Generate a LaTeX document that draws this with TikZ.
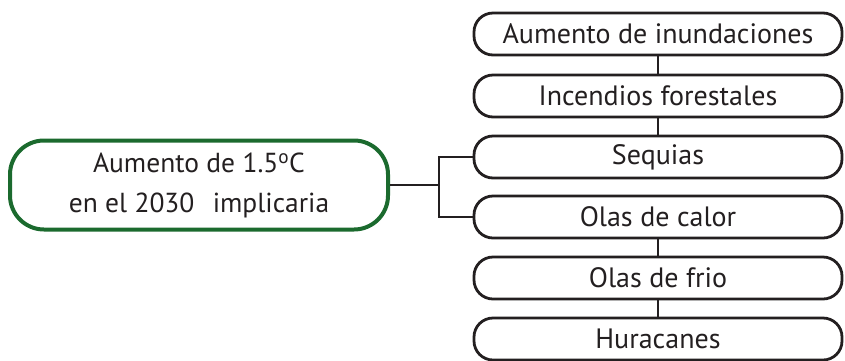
\documentclass[tikz,border=0pt]{standalone}
\usepackage{fontspec}
\setmainfont{PT Sans}
\definecolor{ink}{HTML}{231F20}
\definecolor{leafgreen}{HTML}{1B6A2E}
\begin{document}
\begin{tikzpicture}[x=1pt,y=-1pt,
  effect/.style={draw=ink,line width=2.8pt,rounded corners=19pt,
    minimum width=368pt,minimum height=42pt,inner sep=0pt,
    font=\fontsize{28}{32}\selectfont,text=ink},
  cause/.style={draw=leafgreen,line width=4pt,rounded corners=34pt,
    minimum width=378pt,minimum height=89pt,inner sep=0pt,align=center,
    font=\fontsize{27.5}{40}\selectfont,text=ink},
  link/.style={draw=ink,line width=2.8pt}]
\useasboundingbox (0,0) rectangle (845,360);
\node[cause] (c) at (199,185) {Aumento de 1.5\textsuperscript{o}C\\en el 2030\hspace{0.4em} implicaria};
\node[effect] (e1) at (658,34) {Aumento de inundaciones};
\node[effect] (e2) at (658,96) {Incendios forestales};
\node[effect] (e3) at (658,157) {Sequias};
\node[effect] (e4) at (658,217) {Olas de calor};
\node[effect] (e5) at (658,278) {Olas de frio};
\node[effect] (e6) at (658,339) {Huracanes};
\draw[link] (c.east) -- ++(49,0) coordinate (j);
\draw[link] (e3.west) -| (j) |- (e4.west);
\draw[link] (e1.south) -- (e2.north);
\draw[link] (e2.south) -- (e3.north);
\draw[link] (e4.south) -- (e5.north);
\draw[link] (e5.south) -- (e6.north);
\end{tikzpicture}
\end{document}
